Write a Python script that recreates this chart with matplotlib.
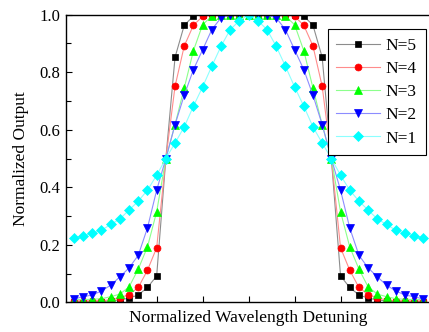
import numpy as np
import matplotlib
matplotlib.use("Agg")
import matplotlib.pyplot as plt

plt.rcParams['font.family'] = ['Liberation Serif', 'DejaVu Serif']

# detuning in units of the sampling step (centre = 0)
detuning = list(range(-19, 20))

# normalized output, left edge -> right edge
out_n5 = [0.002, 0.002, 0.002, 0.003, 0.005, 0.009, 0.015, 0.026, 0.052, 0.092,
          0.5, 0.852, 0.963, 0.995, 1.0, 1.0, 1.0, 1.0, 1.0, 1.0,
          1.0, 1.0, 1.0, 1.0, 1.0, 0.995, 0.963, 0.852, 0.5,
          0.092, 0.052, 0.026, 0.015, 0.009, 0.005, 0.003, 0.002, 0.002, 0.002]
out_n4 = [0.005, 0.005, 0.005, 0.006, 0.009, 0.016, 0.027, 0.052, 0.112, 0.19,
          0.5, 0.751, 0.891, 0.963, 0.994, 1.0, 1.0, 1.0, 1.0, 1.0,
          1.0, 1.0, 1.0, 1.0, 0.994, 0.963, 0.891, 0.751, 0.5,
          0.19, 0.112, 0.052, 0.027, 0.016, 0.009, 0.006, 0.005, 0.005, 0.005]
out_n3 = [0.010, 0.010, 0.011, 0.013, 0.020, 0.029, 0.054, 0.116, 0.193, 0.315,
          0.5, 0.618, 0.745, 0.875, 0.965, 0.995, 1.0, 1.0, 1.0, 1.0,
          1.0, 1.0, 1.0, 0.995, 0.965, 0.875, 0.745, 0.618, 0.5,
          0.315, 0.193, 0.116, 0.054, 0.029, 0.020, 0.013, 0.011, 0.010, 0.010]
out_n2 = [0.012, 0.020, 0.026, 0.040, 0.060, 0.089, 0.120, 0.164, 0.259, 0.390,
          0.5, 0.618, 0.720, 0.809, 0.878, 0.948, 0.989, 0.998, 1.0, 1.0,
          1.0, 0.998, 0.989, 0.948, 0.878, 0.809, 0.720, 0.618, 0.5,
          0.390, 0.259, 0.164, 0.120, 0.089, 0.060, 0.040, 0.026, 0.020, 0.012]
out_n1 = [0.225, 0.232, 0.240, 0.251, 0.271, 0.290, 0.321, 0.352, 0.390, 0.442,
          0.5, 0.554, 0.610, 0.682, 0.749, 0.821, 0.890, 0.948, 0.979, 1.0,
          0.979, 0.948, 0.890, 0.821, 0.749, 0.682, 0.610, 0.554, 0.5,
          0.442, 0.390, 0.352, 0.321, 0.290, 0.271, 0.251, 0.240, 0.232, 0.225]

labels = ['N=5', 'N=4', 'N=3', 'N=2', 'N=1']
series = [out_n5, out_n4, out_n3, out_n2, out_n1]
markers = ['s', 'o', '^', 'v', 'D']
marker_sizes = [4.3, 5.0, 5.6, 5.6, 4.6]
marker_colors = ['#000000', '#ff0000', '#00ff00', '#0000ff', '#00ffff']
line_colors = ['#8c8c8c', '#ff8c8c', '#8cff8c', '#8c8cff', '#8cffff']

fig = plt.figure(figsize=(4.29, 3.32), dpi=100)
ax = fig.add_axes([0.153, 0.089, 0.853, 0.867])
ax.set_axisbelow(True)

for y, lab, m, ms, mc, lc in zip(series, labels, markers, marker_sizes,
                                  marker_colors, line_colors):
    ax.plot(detuning, y, color=lc, lw=0.8, marker=m, ms=ms,
            markerfacecolor=mc, markeredgecolor=mc, markeredgewidth=0.5,
            label=lab)

ax.set_xlim(-19.9, 19.9)
ax.set_ylim(0.0, 1.0)
ax.set_xticks([-15, -10, -5, 0, 5, 10, 15])
ax.set_xticklabels([])
ax.set_yticks(np.arange(0, 1.01, 0.2))
ax.set_yticks(np.arange(0.1, 1.0, 0.2), minor=True)
ax.tick_params(axis='x', direction='in', length=4.3, width=0.8)
ax.tick_params(axis='y', which='major', direction='in', length=4.3, width=0.8,
               labelsize=12, pad=4)
ax.tick_params(axis='y', which='minor', direction='in', length=3.5, width=0.8)

for s in ax.spines.values():
    s.set_linewidth(1.0)

ax.set_xlabel('Normalized Wavelength Detuning', fontsize=12.5, labelpad=2)
ax.set_ylabel('Normalized Output', fontsize=12.5, labelpad=7)

leg = ax.legend(loc='upper right', bbox_to_anchor=(0.984, 0.949),
                borderaxespad=0, fontsize=12.5, handlelength=2.5,
                labelspacing=0.4, fancybox=False, framealpha=1,
                edgecolor='black', handletextpad=0.35, borderpad=0.5)
leg.get_frame().set_linewidth(0.8)

fig.savefig('out.png', dpi=100)
